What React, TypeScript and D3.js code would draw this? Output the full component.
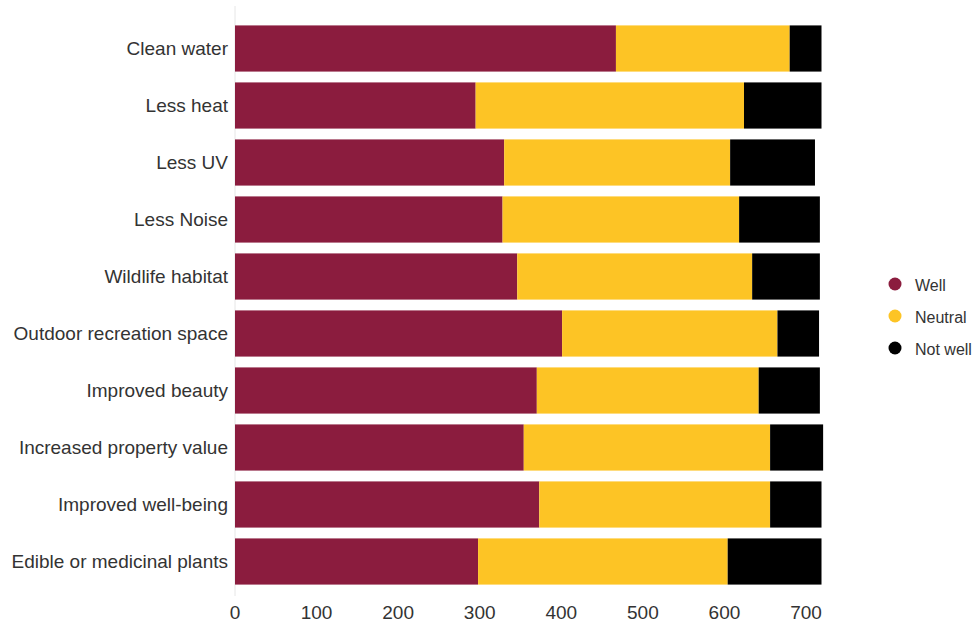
import React from "react";
import * as d3 from "d3";

const categories = [
  "Clean water",
  "Less heat",
  "Less UV",
  "Less Noise",
  "Wildlife habitat",
  "Outdoor recreation space",
  "Improved beauty",
  "Increased property value",
  "Improved well-being",
  "Edible or medicinal plants",
];
const well = [467, 295, 330, 328, 346, 401, 370, 354, 373, 298];
const neutral = [213, 329, 277, 290, 288, 264, 272, 302, 283, 306];
const notWell = [39, 95, 104, 99, 83, 51, 75, 65, 63, 115];
const seriesNames = ["Well", "Neutral", "Not well"];
const seriesColors = ["#8B1C3E", "#FDC425", "#000000"];
const xTicks = [0, 100, 200, 300, 400, 500, 600, 700];

export default function App() {
  const W = 976, H = 624;
  const left = 235, right = 806, top = 20, bottom = 590;
  const x = d3.scaleLinear().domain([0, 700]).range([left, right]);
  const y = d3.scaleBand<string>().domain(categories).range([top, bottom]).paddingInner(0.19).paddingOuter(0.095);
  const rows = categories.map((c, i) => ({ c, vals: [well[i], neutral[i], notWell[i]] }));
  const stack = d3.stack<any>().keys(["0", "1", "2"]).value((d: any, k: string) => d.vals[+k]);
  const stacked = stack(rows as any);
  const font = "'Liberation Sans', Arial, sans-serif";
  return (
    <svg width={W} height={H} style={{ position: "absolute", left: 0, top: 0 }} fontFamily={font}>
      <rect width={W} height={H} fill="#fff" />
      <line x1={x(0)} x2={x(0)} y1={6} y2={596} stroke="#e6e6e6" strokeWidth={1} />
      {stacked.map((s, si) => (
        <g key={si} fill={seriesColors[si]}>
          {s.map((d: any, i: number) => (
            <rect key={i} x={x(d[0])} y={y(categories[i])} width={x(d[1]) - x(d[0])} height={y.bandwidth()} />
          ))}
        </g>
      ))}
      {categories.map((c) => (
        <text key={c} x={left - 7} y={(y(c) as number) + y.bandwidth() / 2} textAnchor="end" dominantBaseline="central" fontSize={19} fill="#333">
          {c}
        </text>
      ))}
      {xTicks.map((t) => (
        <text key={t} x={x(t)} y={619} textAnchor="middle" fontSize={19} fill="#333">
          {t}
        </text>
      ))}
      {seriesNames.map((n, i) => (
        <g key={n} transform={`translate(895, ${284 + i * 32})`}>
          <circle r={6.5} fill={seriesColors[i]} />
          <text x={20} y={1} dominantBaseline="central" fontSize={16} fill="#333">{n}</text>
        </g>
      ))}
    </svg>
  );
}
